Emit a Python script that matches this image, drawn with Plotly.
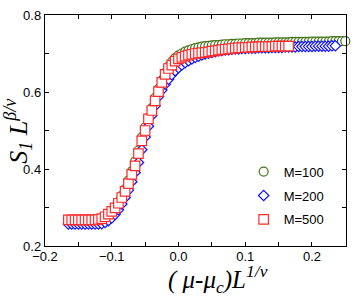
import plotly.graph_objects as go

# ---------------- data ----------------
x_m100 = [-0.165, -0.160, -0.155, -0.150, -0.145, -0.140, -0.135, -0.130, -0.125, -0.120,
          -0.115, -0.110, -0.105, -0.100, -0.095, -0.090, -0.085, -0.080, -0.075, -0.070,
          -0.065, -0.060, -0.055, -0.050, -0.045, -0.040, -0.035, -0.030, -0.025, -0.020,
          -0.015, -0.010, -0.005, 0.000, 0.005, 0.010, 0.015, 0.020, 0.025, 0.030,
          0.035, 0.040, 0.045, 0.050, 0.055, 0.060, 0.065, 0.070, 0.075, 0.080,
          0.085, 0.090, 0.095, 0.100, 0.105, 0.110, 0.115, 0.120, 0.125, 0.130,
          0.135, 0.140, 0.145, 0.150, 0.155, 0.160, 0.165, 0.170, 0.175, 0.180,
          0.185, 0.190, 0.195, 0.200, 0.205, 0.210, 0.215, 0.220, 0.225, 0.230,
          0.235, 0.240, 0.245, 0.250]
y_m100 = [0.266, 0.266, 0.266, 0.266, 0.266, 0.266, 0.266, 0.266, 0.266, 0.268,
          0.271, 0.276, 0.283, 0.291, 0.301, 0.314, 0.330, 0.348, 0.370, 0.394,
          0.420, 0.448, 0.482, 0.508, 0.533, 0.558, 0.585, 0.608, 0.630, 0.650,
          0.666, 0.678, 0.688, 0.695, 0.700, 0.705, 0.708, 0.711, 0.714, 0.716,
          0.718, 0.719, 0.720, 0.721, 0.722, 0.722, 0.723, 0.724, 0.724, 0.725,
          0.725, 0.726, 0.726, 0.727, 0.727, 0.727, 0.727, 0.728, 0.728, 0.728,
          0.728, 0.728, 0.729, 0.729, 0.729, 0.729, 0.729, 0.730, 0.730, 0.730,
          0.730, 0.730, 0.730, 0.731, 0.731, 0.731, 0.731, 0.731, 0.731, 0.732,
          0.732, 0.732, 0.732, 0.732]

x_m200 = [-0.165, -0.160, -0.155, -0.150, -0.145, -0.140, -0.135, -0.130, -0.125, -0.120,
          -0.115, -0.110, -0.105, -0.100, -0.095, -0.090, -0.085, -0.080, -0.075, -0.070,
          -0.065, -0.060, -0.055, -0.050, -0.045, -0.040, -0.035, -0.030, -0.025, -0.020,
          -0.015, -0.010, -0.005, 0.000, 0.005, 0.010, 0.015, 0.020, 0.025, 0.030,
          0.035, 0.040, 0.045, 0.050, 0.055, 0.060, 0.065, 0.070, 0.075, 0.080,
          0.085, 0.090, 0.095, 0.100, 0.105, 0.110, 0.115, 0.120, 0.125, 0.130,
          0.135, 0.140, 0.145, 0.150, 0.155, 0.160, 0.165, 0.170, 0.175, 0.180,
          0.185, 0.190, 0.195, 0.200, 0.205, 0.210, 0.215, 0.220, 0.225, 0.230,
          0.235]
y_m200 = [0.257, 0.257, 0.257, 0.257, 0.257, 0.257, 0.257, 0.257, 0.257, 0.257,
          0.258, 0.261, 0.266, 0.273, 0.282, 0.294, 0.309, 0.326, 0.345, 0.367,
          0.391, 0.417, 0.450, 0.483, 0.511, 0.539, 0.564, 0.588, 0.605, 0.620,
          0.633, 0.645, 0.655, 0.663, 0.670, 0.676, 0.681, 0.686, 0.690, 0.693,
          0.696, 0.699, 0.701, 0.703, 0.705, 0.707, 0.708, 0.709, 0.710, 0.711,
          0.712, 0.712, 0.713, 0.713, 0.714, 0.714, 0.714, 0.715, 0.715, 0.715,
          0.715, 0.716, 0.716, 0.716, 0.716, 0.717, 0.717, 0.717, 0.717, 0.718,
          0.718, 0.718, 0.718, 0.718, 0.719, 0.719, 0.719, 0.719, 0.719, 0.720,
          0.720]

x_m500 = [-0.165, -0.160, -0.155, -0.150, -0.145, -0.140, -0.135, -0.130, -0.125, -0.120,
          -0.115, -0.110, -0.105, -0.100, -0.095, -0.090, -0.085, -0.080, -0.075, -0.070,
          -0.065, -0.060, -0.055, -0.050, -0.045, -0.040, -0.035, -0.030, -0.025, -0.020,
          -0.015, -0.010, -0.005, 0.000, 0.005, 0.010, 0.015, 0.020, 0.025, 0.030,
          0.035, 0.040, 0.045, 0.050, 0.055, 0.060, 0.065, 0.070, 0.075, 0.080,
          0.085, 0.090, 0.095, 0.100, 0.105, 0.110, 0.115, 0.120, 0.125, 0.130,
          0.135, 0.140, 0.145, 0.150, 0.155, 0.160, 0.165]
y_m500 = [0.268, 0.268, 0.268, 0.268, 0.268, 0.268, 0.268, 0.268, 0.268, 0.269,
          0.271, 0.276, 0.283, 0.290, 0.299, 0.311, 0.326, 0.342, 0.362, 0.386,
          0.408, 0.440, 0.473, 0.500, 0.530, 0.552, 0.577, 0.601, 0.625, 0.646,
          0.661, 0.670, 0.680, 0.686, 0.690, 0.693, 0.696, 0.698, 0.700, 0.701,
          0.702, 0.703, 0.704, 0.706, 0.707, 0.709, 0.710, 0.711, 0.712, 0.713,
          0.714, 0.715, 0.715, 0.716, 0.716, 0.717, 0.717, 0.717, 0.718, 0.718,
          0.718, 0.718, 0.719, 0.719, 0.719, 0.719, 0.719]

series_names = ["M=100", "M=200", "M=500"]

x_tickvals = [-0.2, -0.1, 0.0, 0.1, 0.2]
x_ticktext = ["\u22120.2", "\u22120.1", "0.0", "0.1", "0.2"]
y_tickvals = [0.2, 0.4, 0.6, 0.8]
y_ticktext = ["0.2", "0.4", "0.6", "0.8"]

# ---------------- figure ----------------
fig = go.Figure()

styles = [
    dict(symbol="circle", size=9, color="#42731a"),
    dict(symbol="diamond", size=8, color="#1010ff"),
    dict(symbol="square", size=9.5, color="#ff2a2a"),
]
data = [(x_m100, y_m100), (x_m200, y_m200), (x_m500, y_m500)]

for (xs, ys), name, st in zip(data, series_names, styles):
    fig.add_trace(go.Scatter(
        x=xs, y=ys, mode="markers", name=name,
        legendgroup=name, cliponaxis=False,
        marker=dict(symbol=st["symbol"], size=st["size"], color="white",
                    line=dict(color=st["color"], width=1.2)),
    ))

axis_common = dict(
    showgrid=False, zeroline=False, showline=True, linecolor="black", linewidth=1.2,
    mirror="ticks", ticks="inside", ticklen=4, tickwidth=1, tickcolor="black",
    tickfont=dict(family="Liberation Sans, Arial", size=13, color="black"),
)

fig.update_xaxes(range=[-0.2, 0.251], tickmode="array", tickvals=x_tickvals,
                 ticktext=x_ticktext, ticklabelstandoff=-2,
                 minor=dict(dtick=0.05, tick0=0, ticks="inside", ticklen=4,
                            tickcolor="black"),
                 **axis_common)
fig.update_yaxes(range=[0.2, 0.8], tickmode="array", tickvals=y_tickvals,
                 ticktext=y_ticktext,
                 minor=dict(dtick=0.1, tick0=0, ticks="inside", ticklen=4,
                            tickcolor="black"),
                 **axis_common)

fig.add_annotation(
    text="<i>( \u03bc-\u03bc<sub>c</sub>)L<sup>1/\u03bd</sup></i>",
    xref="paper", yref="paper", x=0.575, y=-0.145,
    xanchor="center", yanchor="middle", showarrow=False,
    font=dict(family="Liberation Serif, Times New Roman", size=25, color="black"),
)
fig.add_annotation(
    text="<i>S<sub>1</sub> L<sup>\u03b2/\u03bd</sup></i>",
    xref="paper", yref="paper", x=-0.092, y=0.5, textangle=-90,
    xanchor="center", yanchor="middle", showarrow=False,
    font=dict(family="Liberation Serif, Times New Roman", size=26, color="black"),
)

fig.update_layout(
    width=355, height=300,
    margin=dict(l=45, r=8, t=12, b=54),
    paper_bgcolor="white", plot_bgcolor="white",
    showlegend=True,
    legend=dict(x=0.66, y=0.387, xanchor="left", yanchor="top",
                bgcolor="rgba(0,0,0,0)", traceorder="grouped", tracegroupgap=4,
                font=dict(family="Liberation Sans, Arial", size=13, color="black")),
)

fig.write_html("out.html",
               config={"displayModeBar": False, "staticPlot": True},
               post_script="document.body.style.margin='0';document.body.style.overflow='hidden';")
